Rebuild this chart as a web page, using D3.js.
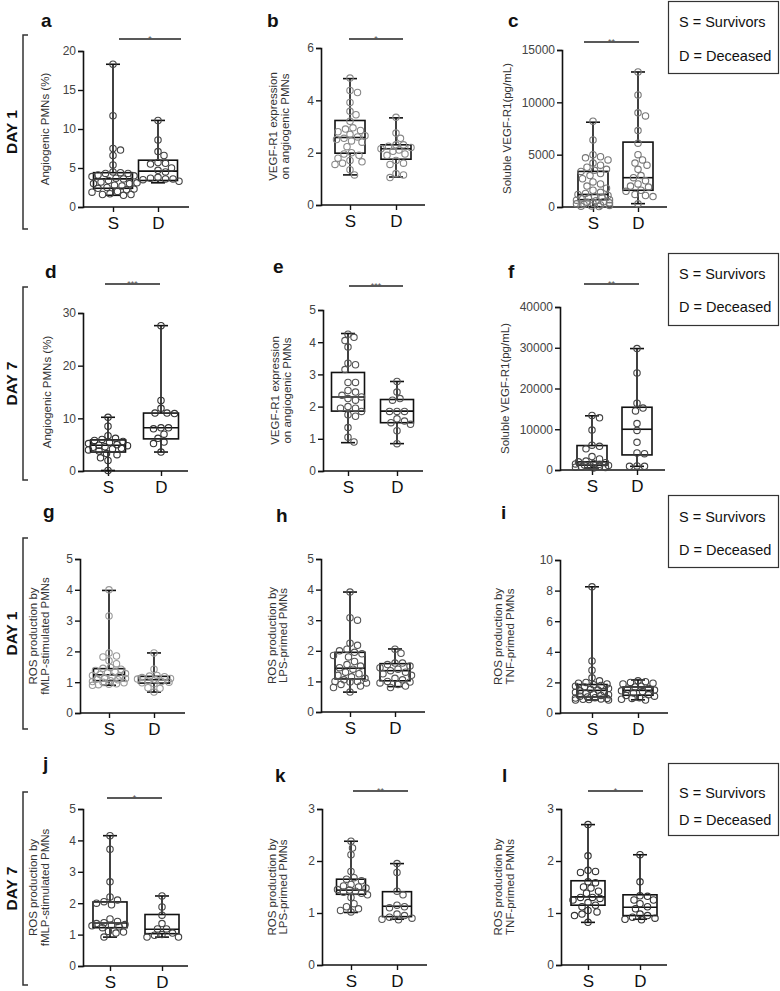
<!DOCTYPE html>
<html>
<head>
<meta charset="utf-8">
<script src="https://cdn.jsdelivr.net/npm/d3@7"></script>
<style>
  body { margin: 0; background: #fff; }
  svg { display: block; font-family: "Liberation Sans", Arial, sans-serif; }
</style>
</head>
<body>
<svg id="fig" width="780" height="991"></svg>
<script>
// ---- DATA ----
const groups = ['S', 'D'];
const letters = ['a', 'b', 'c', 'd', 'e', 'f', 'g', 'h', 'i', 'j', 'k', 'l'];
const dayLabels = ['DAY 1', 'DAY 7', 'DAY 1', 'DAY 7'];
const legendLines = ['S = Survivors', 'D = Deceased'];
const sigMarks = ['*', '*', '**', '***', '***', '**', '', '', '', '*', '**', '*'];
const yLabels = [
  ['Angiogenic PMNs (%)'],
  ['VEGF-R1 expression', 'on angiogenic PMNs'],
  ['Soluble VEGF-R1(pg/mL)'],
  ['Angiogenic PMNs (%)'],
  ['VEGF-R1 expression', 'on angiogenic PMNs'],
  ['Soluble VEGF-R1(pg/mL)'],
  ['ROS production by', 'fMLP-stimulated PMNs'],
  ['ROS production by', 'LPS-primed PMNs'],
  ['ROS production by', 'TNF-primed PMNs'],
  ['ROS production by', 'fMLP-stimulated PMNs'],
  ['ROS production by', 'LPS-primed PMNs'],
  ['ROS production by', 'TNF-primed PMNs'],
];
const yTicks = [
  [0, 5, 10, 15, 20], [0, 2, 4, 6], [0, 5000, 10000, 15000],
  [0, 10, 20, 30], [0, 1, 2, 3, 4, 5], [0, 10000, 20000, 30000, 40000],
  [0, 1, 2, 3, 4, 5], [0, 1, 2, 3, 4, 5], [0, 2, 4, 6, 8, 10],
  [0, 1, 2, 3, 4, 5], [0, 1, 2, 3], [0, 1, 2, 3],
];

// box stats per group: [min, q1, median, q3, max]
const boxA = [[1.5, 2.4, 3.6, 4.4, 18.3], [3.1, 3.4, 4.6, 6.0, 11.1]];
const boxB = [[1.15, 1.98, 2.58, 3.23, 4.83], [1.07, 1.75, 2.15, 2.3, 3.33]];
const boxC = [[30, 700, 1200, 3400, 8100], [320, 1600, 2800, 6200, 12900]];
const boxD = [[0.1, 3.6, 4.9, 5.9, 10.2], [3.6, 6.1, 8.2, 11.0, 27.6]];
const boxE = [[0.88, 1.86, 2.3, 3.06, 4.27], [0.85, 1.5, 1.86, 2.22, 2.78]];
const boxF = [[500, 1200, 2000, 6000, 13300], [900, 3700, 10000, 15400, 29800]];
const boxG = [[0.9, 1.05, 1.24, 1.44, 3.98], [0.68, 0.97, 1.08, 1.19, 1.95]];
const boxH = [[0.65, 1.08, 1.43, 1.95, 3.92], [0.83, 1.02, 1.35, 1.58, 2.06]];
const boxI = [[0.85, 1.05, 1.48, 1.86, 8.25], [0.86, 1.16, 1.48, 1.7, 2.16]];
const boxJ = [[0.92, 1.22, 1.37, 2.04, 4.15], [0.92, 1.03, 1.17, 1.64, 2.23]];
const boxK = [[1.01, 1.36, 1.44, 1.65, 2.38], [0.88, 0.93, 1.13, 1.41, 1.95]];
const boxL = [[0.82, 1.15, 1.31, 1.62, 2.7], [0.88, 0.95, 1.11, 1.35, 2.12]];

// individual patients
const ptsA_S = [18.3, 11.7, 7.5, 7.3, 6.6, 5.4, 4.5, 4.4, 4.3, 4.3, 4.1, 4.0, 3.9, 3.7, 3.6, 3.4, 3.2, 3.0, 3.0, 2.8, 2.7, 2.5, 2.4, 2.3, 2.2, 2.0, 1.9, 1.7, 1.6, 1.6, 1.5];
const ptsA_D = [11.1, 8.6, 7.1, 6.6, 5.7, 5.6, 5.5, 5.0, 4.7, 4.5, 3.8, 3.7, 3.6, 3.6, 3.5, 3.3, 3.1];
const ptsB_S = [4.85, 4.38, 4.3, 3.92, 3.58, 3.45, 3.2, 2.95, 2.9, 2.85, 2.8, 2.7, 2.65, 2.6, 2.55, 2.5, 2.45, 2.4, 2.23, 2.0, 1.95, 1.9, 1.79, 1.7, 1.65, 1.6, 1.55, 1.35, 1.15];
const ptsB_D = [3.35, 2.75, 2.55, 2.3, 2.3, 2.25, 2.2, 2.15, 2.1, 2.05, 1.95, 1.9, 1.7, 1.6, 1.55, 1.2, 1.15, 1.05];
const ptsC_S = [8200, 6400, 5000, 4800, 4700, 4500, 4200, 4000, 3800, 3600, 3500, 3400, 3200, 3000, 2700, 2400, 2200, 2000, 1800, 1600, 1400, 1300, 1200, 1100, 1000, 900, 850, 800, 700, 650, 600, 500, 450, 400, 350, 300, 250, 200, 150, 100, 80, 50];
const ptsC_D = [12900, 10700, 9000, 8700, 7300, 6100, 5000, 4500, 4200, 4000, 3600, 3000, 2800, 2500, 2200, 2000, 1900, 1600, 1500, 1200, 1100, 1000, 300];
const ptsD_S = [10.2, 8.5, 6.7, 6.2, 6.0, 5.8, 5.6, 5.4, 5.2, 5.0, 4.9, 4.8, 4.6, 4.5, 4.3, 4.2, 4.0, 3.8, 3.3, 3.1, 2.5, 2.0, 0.1];
const ptsD_D = [27.6, 13.4, 11.9, 11.0, 11.0, 10.9, 8.2, 8.2, 8.0, 7.0, 6.2, 5.5, 5.2, 3.6];
const ptsE_S = [4.25, 4.15, 4.05, 3.85, 3.35, 3.3, 3.15, 2.75, 2.75, 2.5, 2.45, 2.35, 2.3, 2.25, 2.2, 2.0, 1.95, 1.95, 1.85, 1.75, 1.7, 1.35, 1.05, 0.9];
const ptsE_D = [2.78, 2.45, 2.25, 2.2, 1.85, 1.85, 1.85, 1.62, 1.55, 1.5, 1.45, 1.25, 0.85];
const ptsF_S = [13400, 12800, 9800, 6100, 5800, 5200, 3300, 2700, 2200, 2000, 1800, 1600, 1500, 1400, 1200, 1100, 1000, 900, 800, 700, 600, 500];
const ptsF_D = [29800, 23800, 16400, 15200, 14500, 11400, 9700, 6800, 4200, 4000, 1000, 900, 900];
const ptsG_S = [4.0, 3.15, 1.95, 1.85, 1.82, 1.7, 1.6, 1.48, 1.45, 1.42, 1.38, 1.35, 1.3, 1.28, 1.25, 1.22, 1.2, 1.18, 1.15, 1.12, 1.1, 1.08, 1.05, 1.02, 1.0, 0.98, 0.95, 0.93, 0.92, 0.9];
const ptsG_D = [1.95, 1.42, 1.22, 1.2, 1.18, 1.15, 1.12, 1.1, 1.08, 1.05, 1.02, 1.0, 0.98, 0.95, 0.82, 0.8, 0.68];
const ptsH_S = [3.92, 3.08, 3.0, 2.25, 2.18, 2.05, 2.0, 1.95, 1.9, 1.85, 1.8, 1.65, 1.55, 1.5, 1.45, 1.4, 1.3, 1.25, 1.2, 1.15, 1.1, 1.05, 1.0, 1.0, 0.98, 0.95, 0.9, 0.85, 0.8, 0.65];
const ptsH_D = [2.05, 1.92, 1.6, 1.6, 1.55, 1.5, 1.45, 1.4, 1.35, 1.3, 1.25, 1.2, 1.1, 1.05, 1.0, 0.98, 0.95, 0.9, 0.85, 0.8];
const ptsI_S = [8.25, 3.4, 2.8, 2.3, 2.1, 2.0, 1.95, 1.9, 1.85, 1.8, 1.75, 1.7, 1.6, 1.55, 1.5, 1.45, 1.4, 1.35, 1.3, 1.25, 1.2, 1.15, 1.1, 1.05, 1.0, 0.98, 0.95, 0.92, 0.9, 0.88, 0.85, 0.85];
const ptsI_D = [2.1, 2.05, 2.0, 1.95, 1.9, 1.75, 1.7, 1.6, 1.55, 1.5, 1.45, 1.4, 1.3, 1.2, 1.15, 1.1, 1.0, 0.95, 0.9, 0.85];
const ptsJ_S = [4.15, 3.72, 2.68, 2.2, 2.1, 2.05, 2.0, 1.95, 1.5, 1.42, 1.38, 1.35, 1.32, 1.3, 1.28, 1.25, 1.22, 1.1, 1.08, 1.05, 0.92];
const ptsJ_D = [2.23, 1.88, 1.62, 1.35, 1.18, 1.18, 1.05, 1.0, 0.98, 0.92, 0.92];
const ptsK_S = [2.38, 2.25, 2.12, 1.8, 1.68, 1.65, 1.62, 1.55, 1.52, 1.5, 1.48, 1.45, 1.44, 1.42, 1.4, 1.38, 1.35, 1.3, 1.18, 1.12, 1.08, 1.05, 1.02];
const ptsK_D = [1.95, 1.78, 1.42, 1.35, 1.15, 1.12, 1.1, 0.98, 0.95, 0.92, 0.9, 0.88, 0.87];
const ptsL_S = [2.7, 2.1, 1.82, 1.8, 1.78, 1.6, 1.58, 1.5, 1.48, 1.42, 1.38, 1.3, 1.3, 1.28, 1.25, 1.2, 1.15, 1.12, 1.05, 1.02, 0.98, 0.95, 0.82];
const ptsL_D = [2.12, 1.6, 1.33, 1.32, 1.25, 1.25, 1.18, 1.12, 1.08, 0.98, 0.95, 0.92, 0.9, 0.88, 0.87];

const boxes = [boxA, boxB, boxC, boxD, boxE, boxF, boxG, boxH, boxI, boxJ, boxK, boxL];
const points = [
  [ptsA_S, ptsA_D], [ptsB_S, ptsB_D], [ptsC_S, ptsC_D], [ptsD_S, ptsD_D],
  [ptsE_S, ptsE_D], [ptsF_S, ptsF_D], [ptsG_S, ptsG_D], [ptsH_S, ptsH_D],
  [ptsI_S, ptsI_D], [ptsJ_S, ptsJ_D], [ptsK_S, ptsK_D], [ptsL_S, ptsL_D],
];

// ---- LAYOUT (pixels) ----
const layout = [
  { ax: 83, top: 51, bot: 207, sx: 30, dx: 75, w: 106, bw: 39, let: [41, 27], lab: [-38], sig: [119, 181, 39], pt: '#444' },
  { ax: 321, top: 48, bot: 205, sx: 29, dx: 75, w: 104, bw: 30, let: [267, 27], lab: [-48, -36], sig: [349, 403, 39], pt: '#888' },
  { ax: 562, top: 50, bot: 207, sx: 31, dx: 76, w: 105, bw: 30, let: [508, 27], lab: [-55], sig: [584, 639, 42], pt: '#777' },
  { ax: 83, top: 313, bot: 471, sx: 25, dx: 78, w: 105, bw: 35, let: [45, 278], lab: [-36], sig: [105, 160, 284], pt: '#333' },
  { ax: 323, top: 310, bot: 471, sx: 25, dx: 74, w: 100, bw: 33, let: [273, 273], lab: [-48, -36], sig: [349, 403, 286], pt: '#555' },
  { ax: 560, top: 307, bot: 470, sx: 32, dx: 77, w: 105, bw: 30, let: [508, 278], lab: [-55], sig: [584, 639, 284], pt: '#444' },
  { ax: 80, top: 559, bot: 713, sx: 29, dx: 74, w: 105, bw: 31, let: [43, 518], lab: [-47, -35], sig: null, pt: '#999' },
  { ax: 321, top: 559, bot: 712, sx: 29, dx: 74, w: 104, bw: 30, let: [276, 522], lab: [-49, -38], sig: null, pt: '#555' },
  { ax: 560, top: 560, bot: 713, sx: 32, dx: 78, w: 108, bw: 30, let: [501, 519], lab: [-62, -50], sig: null, pt: '#444' },
  { ax: 83, top: 809, bot: 966, sx: 27, dx: 79, w: 105, bw: 34, let: [43, 770], lab: [-50, -38], sig: [107, 162, 798], pt: '#444' },
  { ax: 322, top: 809, bot: 965, sx: 29, dx: 75, w: 105, bw: 29, let: [275, 782], lab: [-50, -39], sig: [353, 408, 791], pt: '#555' },
  { ax: 561, top: 809, bot: 965, sx: 27, dx: 79, w: 106, bw: 34, let: [502, 782], lab: [-63, -51], sig: [588, 643, 791], pt: '#333' },
];
const brackets = [[35, 229], [287, 480], [538, 729], [792, 985]];
const legends = [[1, 26, 60], [253, 26, 59], [495, 27, 60], [763, 35, 62]];

const svg = d3.select('#fig');
svg.append('rect').attr('width', 780).attr('height', 991).attr('fill', '#fff');

const R = 3.2;

// simple dodge layout so dots sit side by side instead of on top of each other
function swarm(vals, y, maxOff) {
  const placed = [];
  const items = vals.map((v) => ({ v, y: y(v) })).sort((a, b) => a.y - b.y);
  const step = 1.5;
  const nSteps = Math.floor(maxOff / step) * 2;
  for (const p of items) {
    let best = 0;
    let bestScore = Infinity;
    for (let k = 0; k <= nSteps; k++) {
      const off = k === 0 ? 0 : (k % 2 ? 1 : -1) * Math.ceil(k / 2) * step;
      let score = 0;
      for (const q of placed) {
        const d = Math.hypot(q.x - off, q.y - p.y);
        score += Math.max(0, 2 * R + 0.4 - d);
      }
      if (score === 0) { best = off; bestScore = 0; break; }
      if (score < bestScore - 0.01) { bestScore = score; best = off; }
    }
    p.x = best;
    placed.push(p);
  }
  return placed;
}

layout.forEach((L, i) => {
  const g = svg.append('g');
  const ticks = yTicks[i];
  const y = d3.scaleLinear().domain([0, ticks[ticks.length - 1]]).range([L.bot, L.top]);
  const x = d3.scalePoint().domain(groups).range([L.ax + L.sx, L.ax + L.dx]);

  // y axis
  const yAxis = g.append('g')
    .attr('transform', `translate(${L.ax},0)`)
    .call(d3.axisLeft(y).tickValues(ticks).tickFormat(d3.format('d')).tickSize(5).tickPadding(2));
  yAxis.select('.domain').attr('stroke', '#111').attr('stroke-width', 1.6);
  yAxis.selectAll('.tick line').attr('stroke', '#111').attr('stroke-width', 1.4);
  yAxis.selectAll('.tick text')
    .attr('font-size', 12).attr('fill', '#444')
    .attr('font-family', '"Liberation Sans", Arial, sans-serif');

  // x axis
  const xAxis = g.append('g')
    .attr('transform', `translate(0,${L.bot})`)
    .call(d3.axisBottom(x).tickSize(5).tickSizeOuter(0).tickPadding(5));
  xAxis.select('.domain').attr('d', `M${L.ax},0H${L.ax + L.w}`)
    .attr('stroke', '#111').attr('stroke-width', 1.6);
  xAxis.selectAll('.tick line').attr('stroke', '#111').attr('stroke-width', 1.4);
  xAxis.selectAll('.tick text')
    .attr('font-size', 17).attr('fill', '#111')
    .attr('font-family', '"Liberation Sans", Arial, sans-serif');

  // boxes and whiskers
  groups.forEach((grp, gi) => {
    const [mn, q1, med, q3, mx] = boxes[i][gi];
    const cx = x(grp);
    const bg = g.append('g').attr('stroke', '#111').attr('stroke-width', 1.6).attr('fill', 'none');
    bg.append('line').attr('x1', cx).attr('x2', cx).attr('y1', y(q3)).attr('y2', y(mx));
    bg.append('line').attr('x1', cx).attr('x2', cx).attr('y1', y(q1)).attr('y2', y(mn));
    bg.append('line').attr('x1', cx - 7).attr('x2', cx + 7).attr('y1', y(mx)).attr('y2', y(mx));
    bg.append('line').attr('x1', cx - 7).attr('x2', cx + 7).attr('y1', y(mn)).attr('y2', y(mn));
    bg.append('rect')
      .attr('x', cx - L.bw / 2).attr('width', L.bw)
      .attr('y', y(q3)).attr('height', y(q1) - y(q3));
    bg.append('line').attr('x1', cx - L.bw / 2).attr('x2', cx + L.bw / 2)
      .attr('y1', y(med)).attr('y2', y(med));

    const dots = swarm(points[i][gi], y, L.bw / 2 + 2);
    g.append('g').selectAll('circle').data(dots).join('circle')
      .attr('cx', (d) => cx + d.x)
      .attr('cy', (d) => d.y)
      .attr('r', R)
      .attr('fill', 'none')
      .attr('stroke', L.pt)
      .attr('stroke-width', 1.1);
  });

  // y label
  const midY = (L.top + L.bot) / 2;
  yLabels[i].forEach((txt, li) => {
    g.append('text')
      .attr('transform', `translate(${L.ax + L.lab[li]},${midY}) rotate(-90)`)
      .attr('text-anchor', 'middle')
      .attr('dominant-baseline', 'central')
      .attr('font-size', 11.5)
      .attr('fill', '#333')
      .text(txt);
  });

  // panel letter
  g.append('text')
    .attr('x', L.let[0]).attr('y', L.let[1])
    .attr('font-size', 19).attr('font-weight', 'bold').attr('fill', '#111')
    .text(letters[i]);

  // significance bar
  if (L.sig) {
    const [x1, x2, sy] = L.sig;
    g.append('line').attr('x1', x1).attr('x2', x2).attr('y1', sy).attr('y2', sy)
      .attr('stroke', '#222').attr('stroke-width', 1.3);
    g.append('text')
      .attr('x', (x1 + x2) / 2).attr('y', sy + 3)
      .attr('text-anchor', 'middle')
      .attr('font-size', 9).attr('fill', '#555')
      .text(sigMarks[i]);
  }
});

// day brackets
brackets.forEach(([y1, y2], i) => {
  svg.append('path')
    .attr('d', `M28,${y1}H23V${y2}H28`)
    .attr('fill', 'none').attr('stroke', '#333').attr('stroke-width', 1.5);
  svg.append('text')
    .attr('transform', `translate(11,${(y1 + y2) / 2}) rotate(-90)`)
    .attr('text-anchor', 'middle')
    .attr('dominant-baseline', 'central')
    .attr('font-size', 15.5).attr('font-weight', 'bold').attr('fill', '#111')
    .text(dayLabels[i]);
});

// legend boxes
legends.forEach(([top, b1, b2]) => {
  const lg = svg.append('g');
  lg.append('rect')
    .attr('x', 668.5).attr('y', top + 0.5).attr('width', 110).attr('height', 72)
    .attr('fill', '#fff').attr('stroke', '#333').attr('stroke-width', 1.2);
  lg.selectAll('text').data(legendLines).join('text')
    .attr('x', 679)
    .attr('y', (d, k) => top + (k === 0 ? b1 : b2))
    .attr('font-size', 14.5).attr('fill', '#111')
    .text((d) => d);
});
</script>
</body>
</html>
